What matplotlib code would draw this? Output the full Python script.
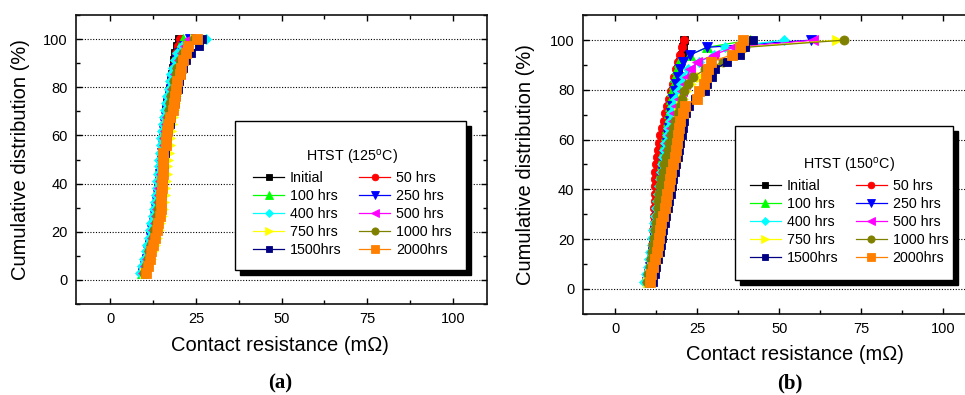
import matplotlib
matplotlib.use('Agg')
import matplotlib.pyplot as plt
from matplotlib.patches import Rectangle
from matplotlib.ticker import MultipleLocator
import matplotlib.transforms as mtransforms

plt.rcParams['font.family'] = ['Liberation Sans', 'DejaVu Sans']
plt.rcParams['mathtext.fontset'] = 'custom'
plt.rcParams['mathtext.rm'] = 'Liberation Sans'

# ---------------- data ----------------
labels = ['Initial', '50 hrs', '100 hrs', '250 hrs', '400 hrs',
          '500 hrs', '750 hrs', '1000 hrs', '1500hrs', '2000hrs']

cum_pct = [2.9, 5.9, 8.8, 11.8, 14.7, 17.6, 20.6, 23.5, 26.5, 29.4,
           32.4, 35.3, 38.2, 41.2, 44.1, 47.1, 50.0, 52.9, 55.9, 58.8,
           61.8, 64.7, 67.6, 70.6, 73.5, 76.5, 79.4, 82.4, 85.3, 88.2,
           91.2, 94.1, 97.1, 100.0]

# (a) HTST 125 C  -- contact resistance (mOhm)
a_initial = [9.4, 10.0, 10.5, 11.0, 11.4, 11.9, 12.3, 12.7, 13.0, 13.3, 13.6, 13.8, 14.0, 14.3, 14.5, 14.7, 14.9,
             15.1, 15.3, 15.5, 15.7, 16.0, 16.2, 16.4, 16.7, 17.0, 17.3, 17.6, 17.9, 18.2, 18.6, 19.0, 19.5, 20.2]
a_50 = [9.6, 10.2, 10.7, 11.1, 11.5, 11.9, 12.3, 12.6, 12.9, 13.2, 13.5, 13.8, 14.1, 14.3, 14.5, 14.7, 14.9,
        15.1, 15.3, 15.6, 15.8, 16.0, 16.3, 16.6, 16.9, 17.2, 17.5, 17.8, 18.1, 18.4, 18.8, 19.2, 19.8, 20.4]
a_100 = [9.3, 9.9, 10.5, 10.9, 11.3, 11.7, 12.1, 12.5, 12.8, 13.1, 13.4, 13.7, 14.0, 14.2, 14.4, 14.6, 14.9,
         15.1, 15.3, 15.5, 15.8, 16.0, 16.3, 16.6, 16.9, 17.2, 17.5, 17.9, 18.3, 18.7, 19.1, 19.6, 20.3, 21.2]
a_250 = [9.5, 10.1, 10.6, 11.0, 11.5, 11.9, 12.3, 12.7, 13.0, 13.3, 13.6, 13.9, 14.1, 14.4, 14.6, 14.8, 15.0,
         15.2, 15.4, 15.6, 15.8, 16.0, 16.3, 16.6, 16.9, 17.3, 17.7, 18.1, 18.5, 19.0, 19.6, 20.4, 21.5, 23.3]
a_400 = [8.8, 9.4, 9.9, 10.4, 10.8, 11.2, 11.6, 12.0, 12.4, 12.7, 13.0, 13.2, 13.5, 13.7, 13.9, 14.1, 14.3,
         14.5, 14.7, 14.9, 15.2, 15.4, 15.7, 16.0, 16.3, 16.7, 17.0, 17.4, 17.8, 18.3, 18.9, 19.6, 21.0, 27.9]
a_500 = [9.6, 10.2, 10.8, 11.3, 11.8, 12.2, 12.6, 13.0, 13.3, 13.6, 13.9, 14.1, 14.3, 14.6, 14.8, 15.0, 15.2,
         15.4, 15.6, 15.8, 16.1, 16.4, 16.7, 17.0, 17.3, 17.7, 18.1, 18.5, 18.9, 19.4, 20.0, 20.8, 21.8, 23.0]
a_750 = [10.2, 11.0, 11.8, 12.4, 13.0, 13.6, 14.2, 14.6, 15.0, 15.4, 15.7, 15.9, 16.1, 16.3, 16.5, 16.7, 16.9,
         17.1, 17.3, 17.5, 17.7, 17.9, 18.2, 18.5, 18.8, 19.1, 19.4, 19.8, 20.2, 20.7, 21.3, 22.0, 23.0, 24.8]
a_1000 = [9.7, 10.3, 10.9, 11.4, 11.9, 12.4, 12.8, 13.2, 13.6, 13.9, 14.2, 14.4, 14.7, 14.9, 15.1, 15.3, 15.5,
          15.7, 15.9, 16.1, 16.3, 16.5, 16.8, 17.1, 17.4, 17.8, 18.2, 18.6, 19.1, 19.6, 20.3, 21.2, 22.4, 24.5]
a_1500 = [10.2, 10.7, 11.2, 11.7, 12.3, 12.9, 13.4, 13.8, 14.2, 14.5, 14.8, 15.0, 15.2, 15.4, 15.5, 15.6, 15.8,
          16.0, 16.3, 16.6, 16.9, 17.3, 17.8, 18.4, 18.8, 19.3, 19.8, 20.2, 20.7, 21.2, 22.0, 23.6, 25.8, 26.7]
a_2000 = [10.5, 10.9, 11.5, 11.9, 12.4, 13.1, 13.6, 13.9, 14.4, 14.8, 14.8, 14.8, 15.1, 15.1, 15.3, 15.3, 15.3,
          15.4, 16.2, 16.3, 16.5, 16.8, 17.3, 18.2, 18.5, 18.9, 19.3, 19.4, 20.4, 20.6, 21.2, 22.1, 22.8, 25.3]

# (b) HTST 150 C
b_initial = [9.8, 10.3, 10.7, 11.0, 11.3, 11.5, 11.7, 11.9, 12.1, 12.3, 12.5, 12.7, 12.9, 13.1, 13.3, 13.5, 13.7,
             14.0, 14.3, 14.6, 15.0, 15.4, 15.8, 16.2, 16.7, 17.2, 17.7, 18.2, 18.7, 19.2, 19.8, 20.3, 20.7, 21.0]
b_50 = [10.0, 10.4, 10.7, 10.9, 11.1, 11.3, 11.5, 11.6, 11.7, 11.8, 11.9, 12.0, 12.0, 12.1, 12.1, 12.2, 12.3,
        12.6, 13.0, 13.3, 13.7, 14.2, 14.7, 15.2, 15.8, 16.4, 17.0, 17.5, 18.0, 18.6, 19.1, 19.6, 20.2, 20.8]
b_100 = [9.8, 10.3, 10.8, 11.2, 11.5, 11.8, 12.1, 12.4, 12.6, 12.8, 13.0, 13.2, 13.4, 13.6, 13.8, 14.0, 14.2,
         14.5, 14.8, 15.1, 15.4, 15.7, 16.0, 16.3, 16.6, 17.0, 17.4, 17.8, 18.2, 18.7, 19.5, 22.8, 27.9, 40.9]
b_250 = [9.6, 10.1, 10.6, 11.0, 11.4, 11.7, 12.0, 12.3, 12.6, 12.9, 13.2, 13.5, 13.8, 14.1, 14.3, 14.5, 14.8,
         15.0, 15.3, 15.6, 15.9, 16.2, 16.5, 16.9, 17.3, 17.7, 18.1, 18.6, 19.1, 19.7, 20.5, 22.8, 27.9, 59.6]
b_400 = [8.8, 9.3, 9.8, 10.2, 10.6, 11.0, 11.3, 11.6, 11.9, 12.2, 12.5, 12.8, 13.1, 13.4, 13.7, 14.0, 14.3,
         14.6, 14.9, 15.2, 15.6, 16.0, 16.5, 17.0, 17.6, 18.3, 19.1, 20.0, 21.0, 22.0, 25.5, 30.0, 33.5, 51.4]
b_500 = [9.5, 10.0, 10.5, 10.9, 11.3, 11.6, 11.9, 12.2, 12.5, 12.8, 13.1, 13.4, 13.7, 14.0, 14.3, 14.6, 14.9,
         15.3, 15.7, 16.1, 16.5, 17.0, 17.5, 18.0, 18.6, 19.3, 20.2, 21.2, 21.8, 22.8, 25.0, 30.0, 36.0, 60.4]
b_750 = [10.0, 10.5, 11.0, 11.5, 12.0, 12.4, 12.7, 13.0, 13.4, 13.8, 14.2, 14.6, 15.0, 15.4, 15.8, 16.2, 16.6,
         17.0, 17.4, 17.8, 18.2, 18.6, 19.0, 19.5, 20.0, 20.6, 21.5, 23.0, 26.0, 29.5, 33.0, 36.0, 38.5, 67.5]
b_1000 = [9.6, 10.0, 10.4, 10.8, 11.2, 11.5, 11.8, 12.1, 12.4, 12.7, 12.9, 13.1, 13.3, 13.6, 14.0, 14.4, 14.9,
          15.4, 15.9, 16.4, 17.0, 17.6, 18.3, 19.0, 19.8, 20.4, 20.9, 22.0, 23.8, 27.3, 32.9, 36.5, 39.4, 69.7]
b_1500 = [11.6, 12.0, 12.5, 13.0, 13.5, 13.9, 14.2, 14.6, 15.0, 15.5, 16.0, 16.4, 16.8, 17.3, 17.7, 18.2, 18.6,
          19.0, 19.4, 19.8, 20.2, 20.6, 21.0, 21.4, 22.5, 24.2, 27.3, 28.0, 29.5, 30.4, 34.0, 38.0, 39.5, 42.1]
b_2000 = [10.6, 10.9, 11.5, 12.1, 12.8, 13.0, 13.2, 13.5, 13.9, 14.5, 15.0, 15.3, 15.8, 16.2, 16.6, 17.0, 17.6,
          18.1, 18.4, 18.8, 19.1, 19.4, 19.8, 20.5, 21.2, 24.8, 25.6, 27.0, 27.5, 28.2, 29.1, 35.5, 38.0, 39.0]

series_a = [a_initial, a_50, a_100, a_250, a_400, a_500, a_750, a_1000, a_1500, a_2000]
series_b = [b_initial, b_50, b_100, b_250, b_400, b_500, b_750, b_1000, b_1500, b_2000]

x_ticks = [0, 25, 50, 75, 100]
y_ticks = [0, 20, 40, 60, 80, 100]

# ---------------- styles ----------------
colors = ['#000000', '#FF0000', '#00FF00', '#0000FF', '#00FFFF',
          '#FF00FF', '#FFFF00', '#808000', '#000080', '#FF8000']
markers = ['s', 'o', '^', 'v', 'D', '<', '>', 'o', 's', 's']
msizes = [5.5, 6, 6.5, 6.5, 5.5, 6.5, 6.5, 6.5, 6.2, 6.7]

fig = plt.figure(figsize=(9.65, 3.95), dpi=100)
ax_a = fig.add_axes([0.0788, 0.2304, 0.4259, 0.7316])
ax_b = fig.add_axes([0.6038, 0.2058, 0.4076, 0.7555])


def draw(ax, series, title, box, leg_center, xlab_pos, ylab_pos):
    handles = []
    for xs, lab, c, m, ms in zip(series, labels, colors, markers, msizes):
        h, = ax.plot(xs, cum_pct, color=c, marker=m, markersize=ms,
                     markeredgecolor=c, markeredgewidth=0.6, linewidth=0.9,
                     label=lab, zorder=3)
        handles.append(h)
    ax.set_xlim(-10, 110)
    ax.set_ylim(-10, 110)
    ax.set_xticks(x_ticks)
    ax.set_yticks(y_ticks)
    ax.xaxis.set_minor_locator(MultipleLocator(12.5))
    ax.yaxis.set_minor_locator(MultipleLocator(10))
    ax.tick_params(which='both', direction='in', top=True, right=True,
                   width=1.0, colors='black')
    ax.tick_params(which='major', length=4.5, labelsize=10.5)
    ax.tick_params(which='minor', length=3)
    ax.tick_params(axis='x', which='major', pad=6)
    ax.tick_params(axis='y', which='major', pad=6)
    for sp in ax.spines.values():
        sp.set_linewidth(1.2)
        sp.set_color('#111111')
    ax.grid(axis='y', which='major', linestyle=(0, (1, 1.5)), color='black',
            linewidth=0.8, zorder=1)
    ax.set_axisbelow(True)
    ax.set_xlabel('Contact resistance (m\u03a9)', fontsize=14.5)
    ax.set_ylabel('Cumulative distribution (%)', fontsize=14.5)
    ax.xaxis.set_label_coords(*xlab_pos)
    ax.yaxis.set_label_coords(*ylab_pos)

    # legend box with black drop shadow
    x0, y0, w, hgt = box
    shadow_tr = mtransforms.offset_copy(ax.transAxes, fig=fig, x=5, y=-5, units='dots')
    ax.add_patch(Rectangle((x0, y0), w, hgt, transform=shadow_tr,
                           facecolor='black', edgecolor='black', zorder=6,
                           clip_on=False))
    ax.add_patch(Rectangle((x0, y0), w, hgt, transform=ax.transAxes,
                           facecolor='white', edgecolor='black', linewidth=1.0,
                           zorder=7, clip_on=False))
    order = [0, 2, 4, 6, 8, 1, 3, 5, 7, 9]
    leg = ax.legend([handles[i] for i in order], [labels[i] for i in order],
                    ncol=2, title=title, frameon=False, loc='center',
                    bbox_to_anchor=leg_center, fontsize=10.3,
                    title_fontsize=10.3, handlelength=2.2, handletextpad=0.4,
                    columnspacing=1.2, labelspacing=0.28, markerscale=0.8)
    leg.set_zorder(8)
    return leg


draw(ax_a, series_a, 'HTST (125$^\\mathregular{o}$C)',
     (0.387, 0.118, 0.562, 0.515), (0.672, 0.35), (0.496, -0.112), (-0.112, 0.5))
draw(ax_b, series_b, 'HTST (150$^\\mathregular{o}$C)',
     (0.388, 0.113, 0.553, 0.517), (0.677, 0.347), (0.54, -0.104), (-0.121, 0.5))

fig.text(280 / 965, 1 - 383 / 395, '(a)', ha='center', va='center',
         fontsize=15, fontweight='bold', family='Liberation Serif')
fig.text(790 / 965, 1 - 383 / 395, '(b)', ha='center', va='center',
         fontsize=15, fontweight='bold', family='Liberation Serif')

fig.savefig('out.png', dpi=100)
